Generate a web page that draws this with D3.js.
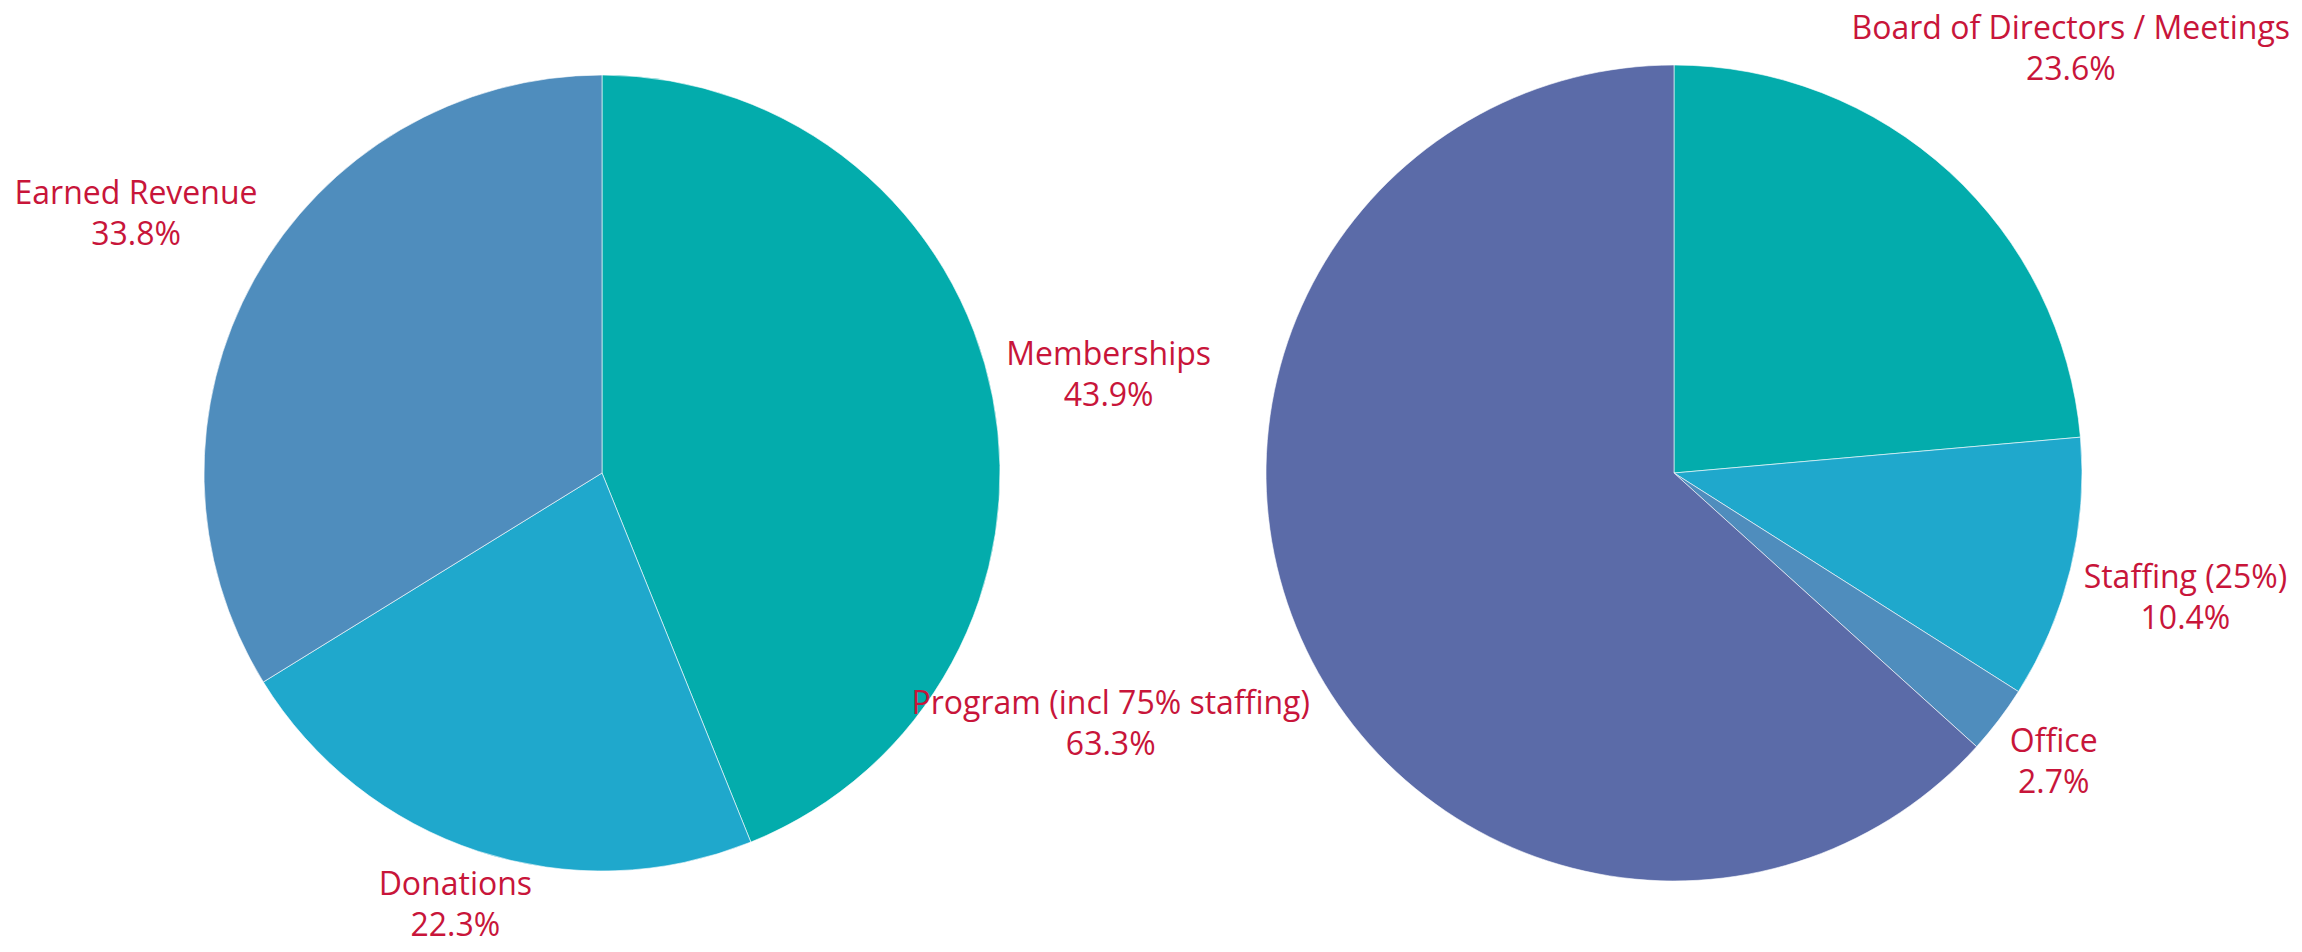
<!DOCTYPE html>
<html>
<head>
<meta charset="utf-8">
<script src="https://cdn.jsdelivr.net/npm/d3@7"></script>
<style>
  body { margin: 0; background: #fff; }
  text { font-family: "Open Sans", "Noto Sans", sans-serif; }
</style>
</head>
<body>
<svg id="chart" width="2302" height="952"></svg>
<script>
var incomeLabels = ["Memberships", "Donations", "Earned Revenue"];
var incomeValues = [43.9, 22.3, 33.8];

var expenseLabels = ["Board of Directors / Meetings", "Staffing (25%)", "Office", "Program (incl 75% staffing)"];
var expenseValues = [23.6, 10.4, 2.7, 63.3];

var sliceColors = ["#03acac", "#1fa8cc", "#4f8dbd", "#5b6ba8"];

var W = 2302, H = 952;
var svg = d3.select("#chart");
var fmt = d3.format(".1f");

function drawPie(svg, labels, values, cx, cy, r) {
    var pie = d3.pie().sort(null).value(function(d) { return d; });
    var arc = d3.arc().innerRadius(0).outerRadius(r);
    var arcs = pie(values);

    var g = svg.append("g").attr("transform", "translate(" + cx + "," + cy + ")");

    g.selectAll("path")
        .data(arcs)
        .enter()
        .append("path")
        .attr("d", arc)
        .attr("fill", function(d, i) { return sliceColors[i]; })
        .attr("stroke", "#ffffff")
        .attr("stroke-width", 0.6);

    // labels outside, pushed out by the size of their box
    var lineGap = 41;
    arcs.forEach(function(d, i) {
        var lab = svg.append("g");
        var t = lab.append("text")
            .attr("text-anchor", "middle")
            .attr("fill", "#c8153a")
            .style("font-size", "32px");
        t.append("tspan").attr("x", 0).attr("y", -lineGap / 2 + 11).text(labels[i]);
        t.append("tspan").attr("x", 0).attr("y", lineGap / 2 + 11).text(fmt(values[i]) + "%");

        var bb = t.node().getBBox();
        var hw = bb.width / 2, hh = 40;
        var a = (d.startAngle + d.endAngle) / 2;
        var ux = Math.sin(a), uy = -Math.cos(a);
        var dist = r + 10 + Math.abs(ux) * hw + Math.abs(uy) * hh;
        var x = cx + ux * dist, y = cy + uy * dist;
        x = Math.max(12 + hw, Math.min(W - 12 - hw, x));
        y = Math.max(8 + hh, Math.min(H - 8 - hh, y));
        lab.attr("transform", "translate(" + x + "," + y + ")");
    });
}

drawPie(svg, incomeLabels, incomeValues, 602, 473, 398);
drawPie(svg, expenseLabels, expenseValues, 1674, 473, 408);
</script>
</body>
</html>
